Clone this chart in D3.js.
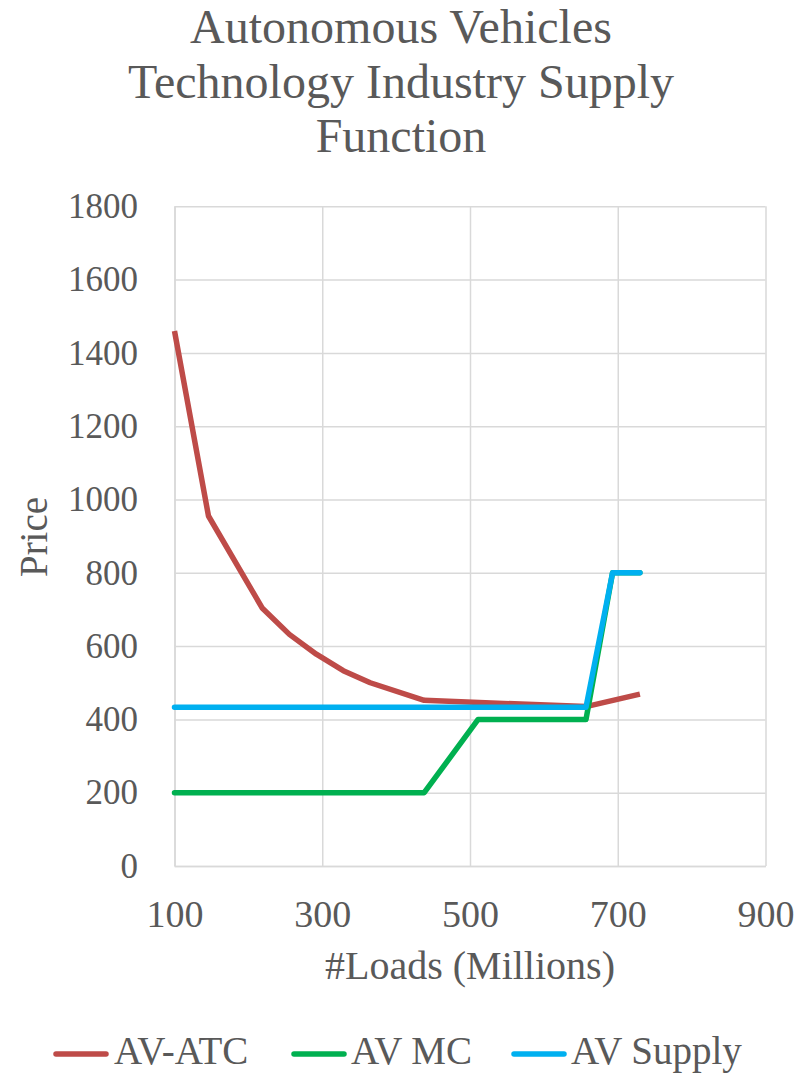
<!DOCTYPE html>
<html>
<head>
<meta charset="utf-8">
<script src="https://cdn.jsdelivr.net/npm/d3@7"></script>
<style>
  html, body { margin: 0; padding: 0; background: #ffffff; }
  svg text { font-family: "Palatino Linotype", "Book Antiqua", Palatino, "Liberation Serif", serif; fill: #595959; }
</style>
</head>
<body>
<svg id="chart" width="803" height="1074"></svg>
<script>
// ---- Data ----
const titleLines = ["Autonomous Vehicles", "Technology Industry Supply", "Function"];
const xTickValues = [100, 300, 500, 700, 900];
const yTickValues = [0, 200, 400, 600, 800, 1000, 1200, 1400, 1600, 1800];

const atcLoads  = [100, 146, 219, 255.5, 292, 328.5, 365, 438, 657, 730];
const atcPrice  = [1460, 955, 703, 632, 578, 533, 500, 452, 435, 469];

const mcLoads   = [100, 438, 511, 657, 693, 730];
const mcPrice   = [200, 200, 400, 400, 800, 800];

const supLoads  = [100, 657, 693, 730];
const supPrice  = [433, 433, 800, 800];

const seriesNames  = ["AV-ATC", "AV MC", "AV Supply"];
const seriesColors = ["#BE4B48", "#00B050", "#00B0F0"];

// ---- Layout ----
const svg = d3.select("#chart");
const plot = { left: 174.5, right: 765.5, top: 206.3, bottom: 866 };
const plotW = plot.right - plot.left, plotH = plot.bottom - plot.top;

const x = d3.scaleLinear().domain([100, 900]).range([plot.left, plot.right]);
const y = d3.scaleLinear().domain([0, 1800]).range([plot.bottom, plot.top]);

// Title
const title = svg.append("text")
  .attr("text-anchor", "middle")
  .style("font-size", "48px");
titleLines.forEach((t, i) => {
  title.append("tspan").attr("x", 401).attr("y", 43 + i * 54.5).text(t);
});

// Y axis with gridlines
const yAxis = svg.append("g")
  .attr("transform", `translate(${plot.left},0)`)
  .call(d3.axisLeft(y).tickValues(yTickValues).tickFormat(d3.format("d"))
    .tickSize(-plotW).tickSizeOuter(0).tickPadding(36.5));
yAxis.select(".domain").attr("stroke", "#D9D9D9").attr("stroke-width", 1.5);
yAxis.selectAll(".tick line").attr("stroke", "#D9D9D9").attr("stroke-width", 1.5);
yAxis.selectAll(".tick text").style("font-size", "35px").attr("fill", "#595959");

// X axis with gridlines
const xAxis = svg.append("g")
  .attr("transform", `translate(0,${plot.bottom})`)
  .call(d3.axisBottom(x).tickValues(xTickValues).tickFormat(d3.format("d"))
    .tickSize(-plotH).tickSizeOuter(0).tickPadding(34));
xAxis.select(".domain").attr("stroke", "#D9D9D9").attr("stroke-width", 1.5);
xAxis.selectAll(".tick line").attr("stroke", "#D9D9D9").attr("stroke-width", 1.5);
xAxis.selectAll(".tick text").style("font-size", "38px").attr("fill", "#595959");

// Axis titles
svg.append("text")
  .attr("transform", "translate(46.5,537) rotate(-90)")
  .attr("text-anchor", "middle")
  .style("font-size", "39px")
  .text("Price");

svg.append("text")
  .attr("x", (plot.left + plot.right) / 2)
  .attr("y", 979)
  .attr("text-anchor", "middle")
  .style("font-size", "40px")
  .text("#Loads (Millions)");

// Lines
const series = [
  { loads: atcLoads, price: atcPrice },
  { loads: mcLoads, price: mcPrice },
  { loads: supLoads, price: supPrice }
];
const line = d3.line().x(d => x(d[0])).y(d => y(d[1]));
series.forEach((s, i) => {
  const pts = s.loads.map((l, j) => [l, s.price[j]]);
  svg.append("path")
    .datum(pts)
    .attr("fill", "none")
    .attr("stroke", seriesColors[i])
    .attr("stroke-width", 5.5)
    .attr("stroke-linejoin", "round")
    .attr("stroke-linecap", i === 0 ? "butt" : "round")
    .attr("d", line);
});

// Legend
const legendItems = [
  { lineX: 54, textX: 114 },
  { lineX: 292, textX: 351 },
  { lineX: 512, textX: 571 }
];
const legendY = 1054;
legendItems.forEach((it, i) => {
  svg.append("line")
    .attr("x1", it.lineX + 2).attr("x2", it.lineX + 52)
    .attr("y1", legendY).attr("y2", legendY)
    .attr("stroke", seriesColors[i])
    .attr("stroke-width", 5.5)
    .attr("stroke-linecap", "round");
  svg.append("text")
    .attr("x", it.textX)
    .attr("y", 1064)
    .style("font-size", "39px")
    .text(seriesNames[i]);
});
</script>
</body>
</html>
